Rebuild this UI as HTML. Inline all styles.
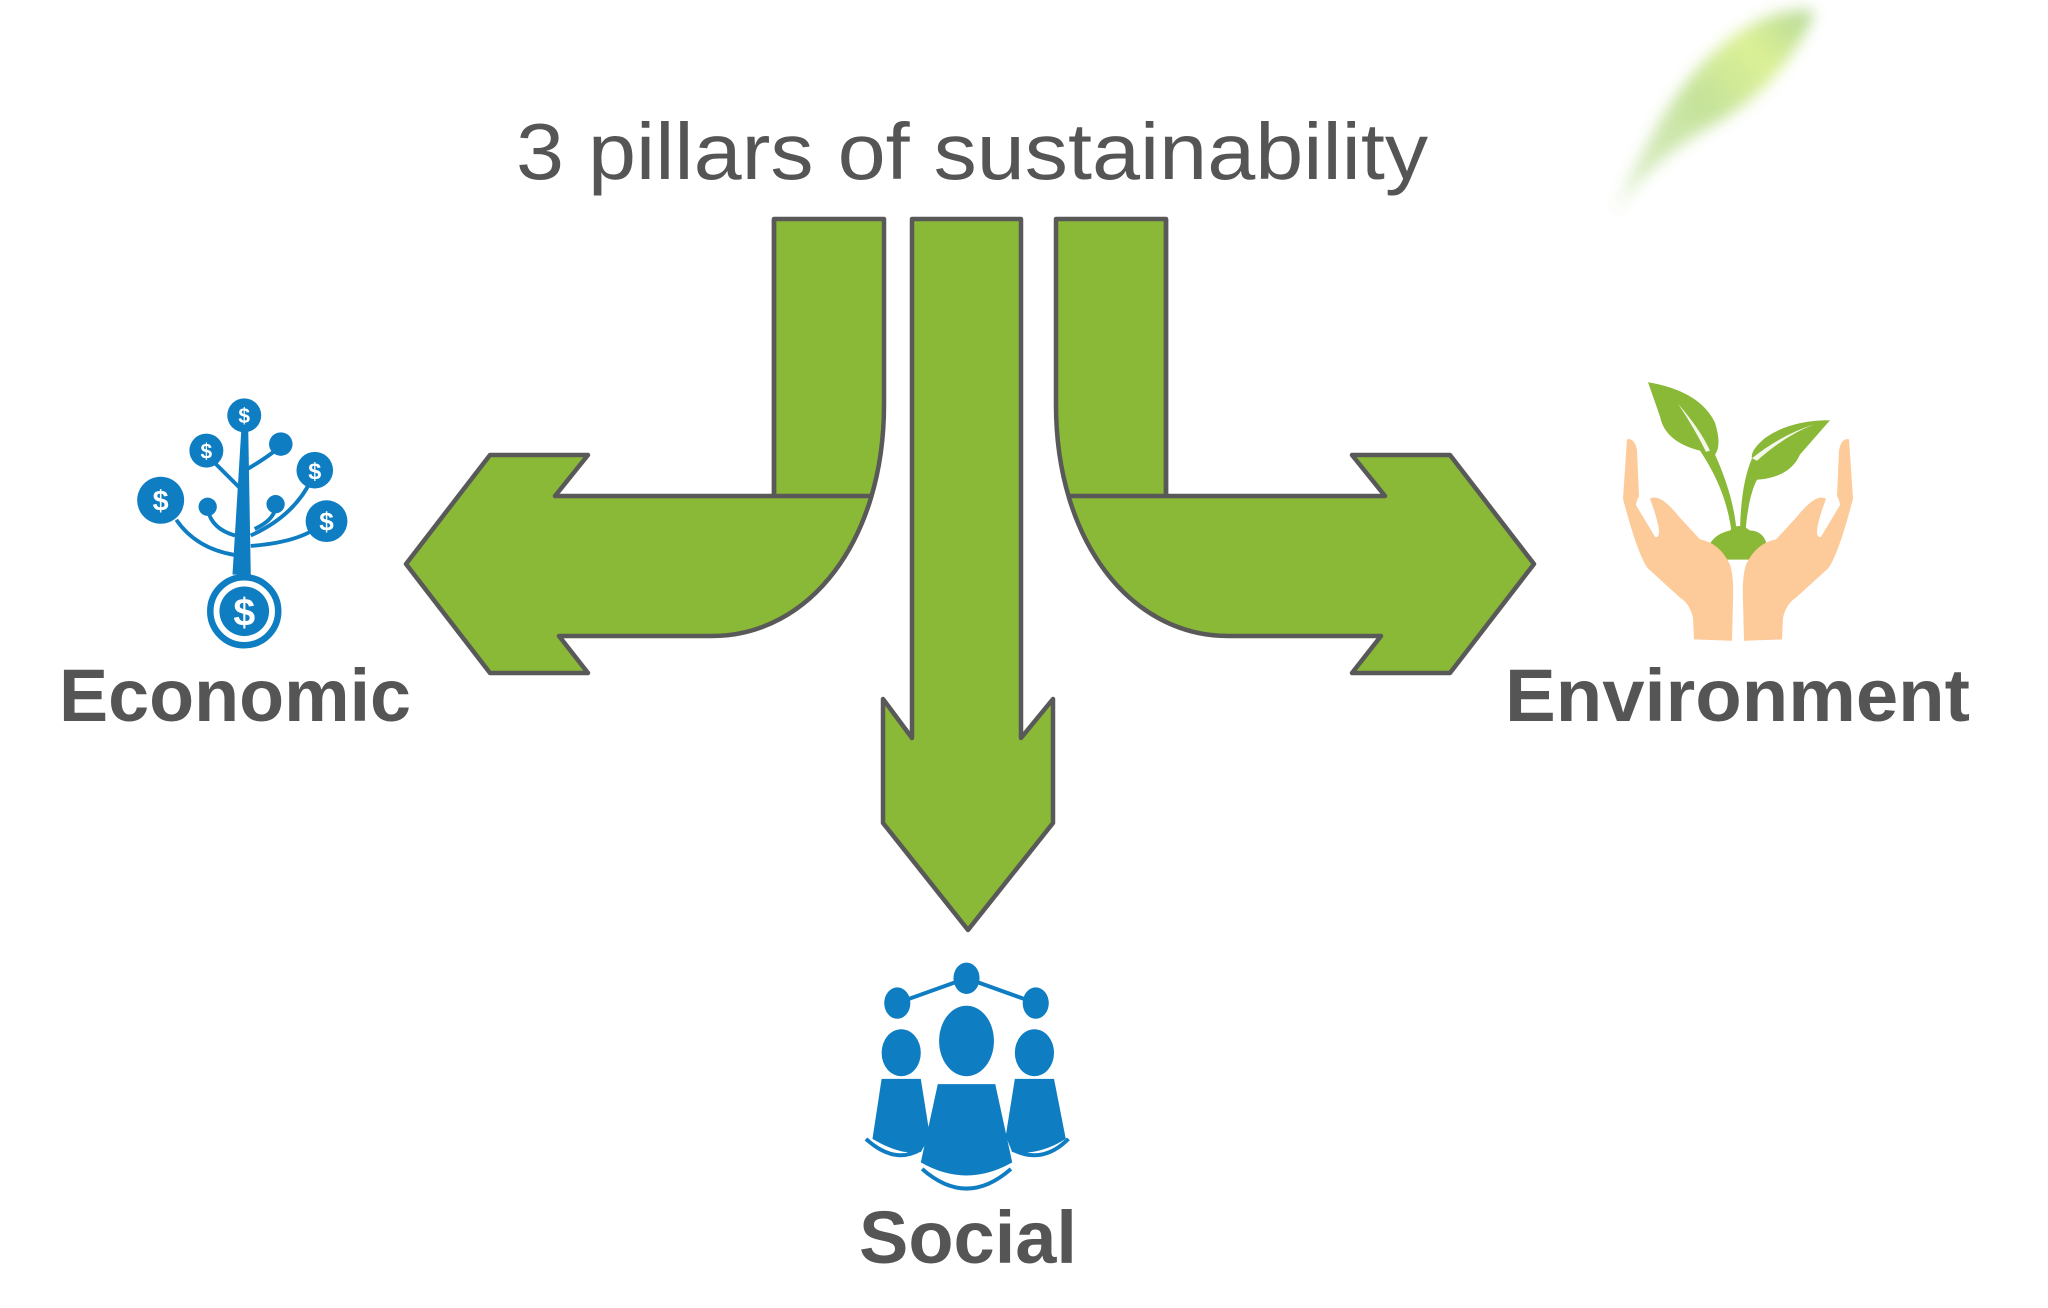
<!DOCTYPE html>
<html><head><meta charset="utf-8"><style>
html,body{margin:0;padding:0;background:#fff;width:2048px;height:1308px;overflow:hidden}
svg{display:block}
</style></head><body>
<svg width="2048" height="1308" viewBox="0 0 2048 1308" xmlns="http://www.w3.org/2000/svg">
<defs>
<filter id="bl" x="-50%" y="-50%" width="200%" height="200%"><feGaussianBlur stdDeviation="7"/></filter>
<linearGradient id="lg" x1="0" y1="1" x2="1" y2="0"><stop offset="0" stop-color="#a8d27a" stop-opacity="0.3"/><stop offset="0.5" stop-color="#bfe08f"/><stop offset="0.75" stop-color="#d8ef8a"/><stop offset="1" stop-color="#a9d38a"/></linearGradient>
</defs>
<!-- blurred leaf -->
<g transform="matrix(1,0,0,1.12,0,-2)">
<path d="M1612,195 C1650,120 1690,50 1760,20 C1790,8 1815,10 1815,14 C1790,60 1760,90 1710,115 C1670,135 1640,160 1612,195 Z" fill="url(#lg)" filter="url(#bl)" opacity="0.9"/>
</g>

<!-- title -->
<text x="972" y="179" text-anchor="middle" font-family="Liberation Sans, sans-serif" font-size="80" fill="#555" textLength="912" lengthAdjust="spacingAndGlyphs">3 pillars of sustainability</text>

<!-- arrows -->
<g fill="#8ab837" stroke="#595959" stroke-width="4.5" stroke-linejoin="round">
<path id="la" d="M774,219 L884,219 L884,405 C884,540 810,636 712,636 L559,636 L588,673 L490,673 L406,564 L490,455 L588,455 L555,496 L774,496 Z"/>
<line x1="774" y1="496" x2="870" y2="496"/>
<line x1="774" y1="219" x2="774" y2="496"/>
<g transform="translate(1940,0) scale(-1,1)">
<path d="M774,219 L884,219 L884,405 C884,540 810,636 712,636 L559,636 L588,673 L490,673 L406,564 L490,455 L588,455 L555,496 L774,496 Z"/>
<line x1="774" y1="496" x2="870" y2="496"/>
<line x1="774" y1="219" x2="774" y2="496"/>
</g>
<path d="M912,219 L1021,219 L1021,738 L1053,699 L1053,823 L968,930 L883,823 L883,699 L912,738 Z"/>
</g>

<!-- labels -->
<g font-family="Liberation Sans, sans-serif" font-weight="bold" font-size="74" fill="#555">
<text x="59" y="721" textLength="352" lengthAdjust="spacingAndGlyphs">Economic</text>
<text x="1505" y="721" textLength="465" lengthAdjust="spacingAndGlyphs">Environment</text>
<text x="859" y="1263" textLength="218" lengthAdjust="spacingAndGlyphs">Social</text>
</g>

<!-- economic tree -->
<g transform="scale(1.3061)" fill="#0e7dc2" stroke="#0e7dc2">
<path d="M185,325 L190,325 L192,440 L178,440 Z" stroke="none"/>
<g fill="none" stroke-width="3">
<path d="M185,375 Q175,365 162,352"/>
<path d="M188,360 Q205,350 213,343"/>
<path d="M180,425 Q150,420 135,398"/>
<path d="M180,410 Q162,405 159,390"/>
<path d="M192,418 Q230,415 245,402"/>
<path d="M192,410 Q225,395 238,368"/>
<path d="M195,405 Q210,398 211,388"/>
</g>
<circle cx="187" cy="468" r="26" fill="none" stroke-width="5"/>
<circle cx="187" cy="468" r="19" stroke="none"/>
<g stroke="none"><circle cx="187" cy="318" r="13"/><circle cx="158" cy="345" r="13"/><circle cx="241" cy="360" r="14"/><circle cx="123" cy="383" r="18"/><circle cx="250" cy="399" r="16"/><circle cx="215" cy="340" r="9"/><circle cx="159" cy="388" r="7"/><circle cx="211" cy="386" r="7"/></g>
<g fill="#fff" stroke="none" font-family="Liberation Sans, sans-serif" font-weight="bold" text-anchor="middle">
<text x="187" y="324" font-size="16">$</text><text x="158" y="351" font-size="16">$</text><text x="241" y="367" font-size="18">$</text><text x="123" y="391" font-size="22">$</text><text x="250" y="406" font-size="20">$</text><text x="187" y="479" font-size="30">$</text>
</g>
</g>

<!-- social -->
<g transform="scale(1.3061)" fill="#0e7dc2">
<g stroke="#0e7dc2" stroke-width="3"><line x1="687" y1="768" x2="740" y2="749"/><line x1="740" y1="749" x2="793" y2="768"/></g>
<ellipse cx="740" cy="749" rx="10" ry="12"/><ellipse cx="687" cy="768" rx="10" ry="12"/><ellipse cx="793" cy="768" rx="10" ry="12"/>
<ellipse cx="690" cy="806" rx="15" ry="18"/><ellipse cx="792" cy="806" rx="15" ry="18"/>
<path d="M675,826 L705,826 L712,870 L705,882 Q690,885 668,872 Z"/>
<path d="M777,826 L807,826 L816,872 Q795,885 775,882 L770,870 Z"/>
<ellipse cx="740" cy="797" rx="21" ry="27"/>
<path d="M718,830 L762,830 L775,890 Q740,910 705,890 Z"/>
<g fill="none" stroke="#0e7dc2" stroke-width="3"><path d="M663,872 Q685,892 705,880"/><path d="M775,880 Q798,892 818,872"/><path d="M706,895 Q740,925 774,895"/></g>
</g>

<!-- environment -->
<g transform="matrix(1,0,0,1.267,0,-8)">
<g fill="#8ab837">
<path d="M1648,308 Q1700,315 1715,340 Q1722,358 1715,365 Q1735,400 1737,430 L1732,430 Q1728,395 1700,362 Q1665,355 1660,335 Z"/>
<path d="M1830,338 Q1790,338 1765,352 Q1750,362 1752,368 Q1740,390 1740,430 L1745,430 Q1748,398 1757,385 Q1790,383 1800,365 Z"/>
<path d="M1705,445 Q1710,428 1730,425 Q1738,418 1750,425 Q1765,425 1768,440 L1768,448 L1705,448 Z"/>
</g>
<g fill="#fff" opacity="0.9"><path d="M1678,325 Q1700,345 1710,362 L1706,363 Q1695,345 1678,325 Z"/><path d="M1815,341 Q1785,350 1757,370 L1752,368 Q1780,350 1815,341 Z"/></g>
<g fill="#fdca99">
<path id="hand" d="M1627,353 Q1635,352 1637,362 L1639,398 Q1636,402 1636,405 L1655,430 Q1665,432 1650,400 Q1660,395 1680,415 L1700,432 Q1720,435 1730,452 Q1734,462 1733,480 L1732,512 L1694,511 L1693,494 Q1690,483 1680,478 L1648,455 Q1638,445 1623,400 Z"/>
<use href="#hand" transform="translate(3476,0) scale(-1,1)"/>
</g>
</g>
</svg>
</body></html>
